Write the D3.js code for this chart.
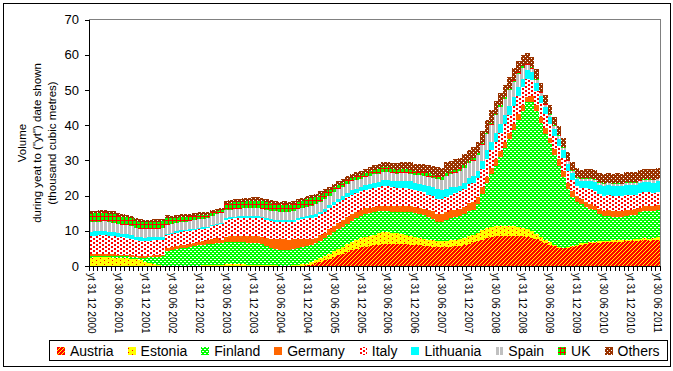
<!DOCTYPE html>
<html>
<head>
<meta charset="utf-8">
<title>Volume during year to date</title>
<script src="https://d3js.org/d3.v7.min.js"></script>
<style>
  body { margin: 0; background: #fff; }
  text { font-family: Arial, "Liberation Sans", sans-serif; fill: #000; }
</style>
</head>
<body>
<svg width="673" height="371"></svg>
<script>
// monthly "year to date" volumes, Dec 2000 .. Jun 2011 (thousand m3)
var countries = ["Austria", "Estonia", "Finland", "Germany", "Italy", "Lithuania", "Spain", "UK", "Others"];

var austria = [0,0,0,0,0,0,0,0,0,0, 0,0,0,0,0,0,0,0,0,0, 0,0,0,0,0,0,0,0,0,0,
  0,0,0,0,0,0,0,0,0,0, 0,0,0,0,0,0,0,0.1,0.2,0.4, 0.8,1.2,1.6,2.1,2.6,3.0,3.5,4.0,4.5,4.9,
  5.3,5.5,5.7,5.9,6.1,6.2,6.3,6.3,6.3,6.2, 6.2,6.1,6.0,5.9,5.8,5.6,5.4,5.3,5.3,5.4,
  5.5,5.6,5.7,6.0,6.3,6.7,7.1,7.5,7.9,8.2, 8.4,8.5,8.6,8.6,8.6,8.5,8.4,8.2,8.0,7.6,
  7.0,6.5,6.0,5.6,5.2,5.0,5.2,5.5,5.8,6.0, 6.2,6.4,6.5,6.6,6.7,6.8,6.9,6.9,6.9,7.0,
  7.0,7.1,7.2,7.3,7.2,7.4,7.5];
var estonia = [2.4,2.5,2.6,2.6,2.5,2.4,2.3,2.3,2.2,2.1, 1.9,1.6,1.2,0.8,0.5,0.3,0.1,0,0,0,
  0,0,0,0.1,0.1,0.2,0.3,0.3,0.4,0.4, 0.5,0.5,0.5,0.5,0.5,0.4,0.4,0.4,0.3,0.3,
  0.2,0.2,0.1,0.1,0.1,0.2,0.3,0.4,0.5,0.6, 0.8,1.0,1.2,1.4,1.6,1.8,2.0,2.2,2.4,2.5,
  2.6,2.7,2.8,3.0,3.3,3.5,3.4,3.2,3.0,2.8, 2.6,2.4,2.2,2.1,2.0,1.9,1.9,1.9,1.8,1.8,
  1.8,1.8,1.9,2.0,2.1,2.2,2.4,2.6,2.8,3.0, 3.0,3.0,2.9,2.8,2.7,2.6,2.4,2.2,1.9,1.6,
  1.3,1.0,0.7,0.5,0.3,0.2,0.2,0.3,0.3,0.4, 0.4,0.4,0.4,0.4,0.4,0.4,0.4,0.5,0.5,0.5,
  0.5,0.5,0.5,0.6,0.6,0.6,0.6];
var finland = [0.3,0.3,0.3,0.3,0.3,0.4,0.4,0.4,0.5,0.5, 0.6,0.8,1.2,1.7,2.1,2.3,2.6,4.4,4.6,4.8,
  5.0,5.2,5.4,5.5,5.8,5.8,5.9,6.0,6.0,6.1, 6.2,6.2,6.2,6.2,6.2,6.2,6.2,6.2,5.9,5.4,
  5.0,4.6,4.4,4.4,4.4,4.6,4.8,4.9,5.0,5.0, 4.9,5.0,5.1,5.4,5.5,5.6,5.7,5.8,6.0,6.2,
  6.4,6.6,6.6,6.4,6.1,5.9,5.8,5.9,6.1,6.3, 6.5,6.7,6.8,6.8,6.6,6.4,6.0,5.4,5.3,6.0,
  6.4,6.5,6.6,6.8,7.3,7.1,8.0,10.4,12.8,14.8, 17.1,19.5,22.0,24.6,27.2,30.4,33.2,36.1,36.8,34.8,
  32.2,30.0,28.1,25.4,23.0,20.2,16.6,13.9,12.2,11.1, 10.1,9.5,8.9,7.8,7.1,7.0,6.7,6.4,6.4,6.8,
  7.0,7.0,7.5,7.6,7.9,7.6,7.7];
var germany = [0.6,0.6,0.5,0.5,0.5,0.5,0.4,0.4,0.4,0.4, 0.4,0.4,0.4,0.4,0.4,0.4,0.5,0.7,0.8,0.8,
  0.9,0.9,0.9,1.0,1.0,1.0,1.1,1.4,1.5,0.8, 1.6,1.7,1.8,1.8,1.9,1.9,1.9,1.8,1.9,2.2,
  2.6,3.0,3.1,3.1,3.0,2.8,2.6,2.2,1.9,1.7, 1.5,1.5,1.6,1.7,1.8,1.9,1.9,1.9,1.8,1.7,
  1.6,1.6,1.5,1.5,1.4,1.5,1.6,1.6,1.6,1.7, 1.7,1.8,1.8,1.8,1.9,2.0,2.2,2.3,2.3,2.2,
  2.1,2.0,2.0,2.0,2.1,2.2,2.0,1.8,1.7,1.7, 1.8,1.7,1.8,1.7,1.7,1.6,1.6,1.5,1.5,1.6,
  1.7,1.7,1.6,1.7,1.8,1.6,1.7,1.6,1.5,1.5, 1.4,1.3,1.3,1.4,1.5,1.6,1.6,1.7,1.7,1.6,
  1.5,1.5,1.4,1.4,1.3,1.3,1.4];
var italy = [5.2,5.2,5.3,5.3,5.2,5.1,5.2,5.0,4.9,4.8, 4.5,4.4,4.3,4.3,4.3,4.3,4.2,3.6,3.7,3.8,
  3.8,3.8,3.7,3.6,3.6,3.6,3.5,3.6,3.7,4.6, 4.8,4.9,5.0,5.1,5.1,5.2,5.2,5.3,5.4,5.3,
  5.0,4.8,4.8,4.9,4.9,5.0,5.3,5.7,6.0,6.0, 6.0,6.0,5.9,5.8,5.8,5.8,5.7,5.7,5.6,5.5,
  5.3,5.2,5.3,5.4,5.4,5.5,5.5,5.3,5.2,5.2, 5.1,5.0,4.8,4.7,4.6,4.4,4.3,4.2,4.2,4.3,
  4.5,4.8,5.0,5.2,5.4,5.5,5.4,5.3,5.2,5.1, 5.0,5.0,5.1,5.1,5.2,5.2,5.2,5.2,4.6,4.2,
  4.0,3.9,3.8,3.8,3.8,3.7,3.4,3.1,3.0,3.2, 4.0,4.2,4.3,4.2,4.3,4.4,4.4,4.4,4.3,4.3,
  4.2,4.2,4.1,4.0,3.9,3.9,3.9];
var lithuania = [1.2,1.2,1.2,1.3,1.2,1.2,1.1,1.0,1.0,1.0, 0.9,0.9,0.9,0.9,0.9,0.9,0.9,0.4,0.4,0.4,
  0.4,0.4,0.4,0.4,0.4,0.4,0.4,0.4,0.4,0.4, 0.5,0.5,0.5,0.5,0.5,0.5,0.4,0.4,0.4,0.4,
  0.5,0.5,0.6,0.6,0.6,0.6,0.6,0.6,0.6,0.7, 0.7,0.7,0.8,0.8,0.9,1.0,1.0,1.1,1.2,1.2,
  1.3,1.4,1.4,1.5,1.6,1.7,1.8,1.8,1.8,1.9, 1.9,2.0,2.0,2.1,2.2,2.4,2.6,2.8,2.6,2.3,
  2.0,1.8,1.6,1.6,1.7,1.8,2.0,2.2,2.4,2.5, 2.5,2.5,2.5,2.5,2.5,2.4,2.4,2.4,2.2,2.1,
  2.0,2.0,2.0,2.0,2.1,2.1,2.0,1.9,1.8,1.9, 2.0,2.2,2.4,2.6,2.7,2.7,2.7,2.8,2.8,2.8,
  2.8,2.8,2.9,2.9,2.9,2.9,2.9];
var spain = [2.7,2.7,2.7,2.7,2.7,2.7,2.6,2.6,2.6,2.5, 2.4,2.4,2.4,2.4,2.4,2.4,2.4,2.5,2.4,2.4,
  2.4,2.3,2.3,2.4,2.4,2.4,2.5,2.6,2.7,2.7, 2.2,2.2,2.2,2.2,2.2,2.3,2.4,2.4,2.4,2.4,
  2.4,2.4,2.3,2.3,2.3,2.4,2.5,2.5,2.6,2.7, 2.8,2.8,2.8,2.8,2.8,2.7,2.6,2.6,2.5,2.4,
  2.3,2.3,2.3,2.3,2.3,2.3,2.2,2.2,2.1,2.2, 2.3,2.2,2.3,2.4,2.5,2.6,2.6,2.7,2.9,3.6,
  3.8,4.0,4.2,4.3,4.3,4.4,4.5,4.6,4.6,4.8, 5.0,4.9,4.6,4.6,4.4,3.8,3.0,1.4,1.0,0.9,
  0.8,0.7,0.7,0.7,0.8,0.8,0.7,0.6,0.5,0.5, 0.6,0.6,0.6,0.6,0.6,0.6,0.6,0.6,0.6,0.6,
  0.6,0.6,0.6,0.6,0.6,0.6,0.6];
var uk = [2.5,2.5,2.5,2.5,2.5,2.4,2.3,2.2,2.2,2.2, 2.1,2.1,2.0,2.0,2.0,2.0,2.0,2.0,1.6,1.5,
  1.4,1.4,1.4,1.2,1.1,1.0,0.9,0.9,0.9,0.9, 1.9,1.9,1.9,1.9,1.9,1.9,2.1,2.1,2.1,2.1,
  2.1,2.1,2.1,2.1,2.1,2.1,2.1,2.1,2.1,2.1, 2.0,2.0,1.9,1.5,1.3,1.3,1.2,1.2,1.1,1.1,
  1.0,1.1,1.3,1.4,1.4,1.4,1.4,1.3,1.3,1.2, 1.2,1.1,1.1,1.0,1.0,1.0,0.9,0.9,0.9,0.9,
  0.8,0.8,0.8,0.8,0.7,0.7,0.6,0.6,0.5,0.5, 0.5,0.5,0.5,0.5,0.5,0.5,0.5,0.4,0.4,0.3,
  0.3,0.3,0.3,0.3,0.3,0.3,0.3,0.3,0.3,0.3, 0.3,0.3,0.3,0.2,0.2,0.2,0.2,0.2,0.2,0.2,
  0.2,0.2,0.2,0.2,0.2,0.2,0.2];
var others = [0.7,0.7,0.8,0.8,0.8,0.8,0.8,0.8,0.8,0.8, 0.8,0.7,0.7,0.7,0.7,0.7,0.7,0.8,0.8,0.8,
  0.8,0.8,0.8,0.8,0.8,0.8,0.8,0.8,0.7,0.7, 0.9,0.9,0.9,0.9,0.9,0.9,0.9,0.9,0.9,0.9,
  0.9,0.9,0.9,0.9,0.9,0.9,0.9,0.9,0.9,0.9, 1.0,1.0,1.0,1.0,1.0,1.0,1.1,1.1,1.1,1.1,
  1.1,1.2,1.2,1.3,1.4,1.5,1.6,1.7,1.8,1.9, 2.0,2.1,2.1,2.2,2.3,2.4,2.4,2.5,2.6,2.9,
  2.9,3.0,3.0,3.1,3.1,3.2,3.3,3.4,3.5,3.6, 3.6,3.5,3.5,3.4,3.4,3.3,3.2,3.1,2.9,2.8,
  2.7,2.6,2.5,2.4,2.4,2.4,2.3,2.3,2.3,2.4, 2.5,2.6,2.6,2.7,2.7,2.7,2.7,2.8,2.8,2.8,
  2.8,2.9,2.9,2.9,3.0,3.0,3.0];

var xTickLabels = ["yt 31 12 2000", "yt 30 06 2001", "yt 31 12 2001", "yt 30 06 2002",
  "yt 31 12 2002", "yt 30 06 2003", "yt 31 12 2003", "yt 30 06 2004", "yt 31 12 2004",
  "yt 30 06 2005", "yt 31 12 2005", "yt 30 06 2006", "yt 31 12 2006", "yt 30 06 2007",
  "yt 31 12 2007", "yt 30 06 2008", "yt 31 12 2008", "yt 30 06 2009", "yt 31 12 2009",
  "yt 30 06 2010", "yt 31 12 2010", "yt 30 06 2011"];
var yTicks = [0, 10, 20, 30, 40, 50, 60, 70];
var yTitle = ["Volume", "during yeat to (\"yt\") date shown", "(thousand cubic metres)"];

var seriesData = [austria, estonia, finland, germany, italy, lithuania, spain, uk, others];
var rows = austria.map(function(v, i) {
  var r = { idx: i };
  countries.forEach(function(c, k) { r[c] = seriesData[k][i]; });
  return r;
});

var svg = d3.select("svg");
var plotL = 89, plotR = 660, plotT = 19.5, plotB = 266;

var x = d3.scaleBand().domain(d3.range(rows.length)).range([plotL, plotR]).padding(0);
var y = d3.scaleLinear().domain([0, 70]).range([plotB, plotT]);

// Excel-like pattern fills
var defs = svg.append("defs");
function pattern(id, w, h, bg, fg, pixels) {
  var p = defs.append("pattern").attr("id", id)
    .attr("patternUnits", "userSpaceOnUse").attr("width", w).attr("height", h);
  p.append("rect").attr("width", w).attr("height", h).attr("fill", bg);
  pixels.forEach(function(q) {
    p.append("rect").attr("x", q[0]).attr("y", q[1])
      .attr("width", q[2] || 1).attr("height", q[3] || 1).attr("fill", fg);
  });
}
pattern("p-austria", 4, 4, "#ff0000", "#ffff00", [[0,3],[1,2],[2,1],[3,0]]);
pattern("p-estonia", 8, 4, "#ffff00", "#ff0000", [[0,0],[4,2]]);
pattern("p-finland", 4, 4, "#00ff00", "#ffffff", [[0,1,2,1],[2,3,2,1]]);
pattern("p-germany", 4, 4, "#ff6600", "#ff6600", []);
pattern("p-italy", 6, 4, "#ffffff", "#ff0000", [[0,0,2,2],[3,2,2,2]]);
pattern("p-lithuania", 4, 4, "#00ffff", "#00ffff", []);
pattern("p-spain", 4, 4, "#ffffff", "#c0c0c0", [[0,0,3,4]]);
pattern("p-uk", 4, 4, "#00ff00", "#ff0000", [[0,0,4,1],[0,0,1,4]]);
pattern("p-others", 4, 4, "#993300", "#ffffff", [[1,0],[3,2]]);

var fillOf = function(c) { return "url(#p-" + c.toLowerCase() + ")"; };

var stack = d3.stack().keys(countries)(rows);

svg.append("g").attr("shape-rendering", "crispEdges")
  .selectAll("g").data(stack).enter().append("g")
  .attr("fill", function(s) { return fillOf(s.key); })
  .selectAll("rect").data(function(s) { return s; }).enter().append("rect")
  .attr("x", function(d) { return x(d.data.idx); })
  .attr("width", x.bandwidth())
  .attr("y", function(d) { return y(d[1]); })
  .attr("height", function(d) { return y(d[0]) - y(d[1]); });

// plot area border (grey top/right)
svg.append("path")
  .attr("d", "M" + plotL + "," + plotT + "H" + (plotR + 0.5) + "V" + plotB)
  .attr("fill", "none").attr("stroke", "#808080").attr("shape-rendering", "crispEdges");

// y axis
var yAxis = svg.append("g").attr("transform", "translate(" + plotL + ",0)")
  .call(d3.axisLeft(y).tickValues(yTicks).tickSize(4).tickSizeOuter(0).tickPadding(6));
yAxis.selectAll("text").style("font-size", "13px").attr("fill", "#000");
yAxis.selectAll("line, path").attr("stroke", "#000").attr("shape-rendering", "crispEdges");

// x axis line with a tick at every category boundary
var xg = svg.append("g").attr("shape-rendering", "crispEdges");
xg.append("line").attr("x1", plotL).attr("x2", plotR).attr("y1", plotB + 0.5).attr("y2", plotB + 0.5)
  .attr("stroke", "#000");
xg.selectAll("line.tick").data(d3.range(rows.length + 1)).enter().append("line")
  .attr("class", "tick")
  .attr("x1", function(i) { return i < rows.length ? x(i) : plotR; })
  .attr("x2", function(i) { return i < rows.length ? x(i) : plotR; })
  .attr("y1", plotB).attr("y2", plotB + 5).attr("stroke", "#000");

svg.append("g").selectAll("text").data(xTickLabels).enter().append("text")
  .attr("transform", function(t, k) {
    return "translate(" + (x(k * 6) + x.bandwidth() / 2) + "," + (plotB + 7) + ") rotate(90)";
  })
  .attr("dy", "0.35em").style("font-size", "10px").text(function(t) { return t; });

// y title
svg.append("g").selectAll("text").data(yTitle).enter().append("text")
  .attr("transform", function(t, k) { return "translate(" + (22 + k * 15) + ",143) rotate(-90)"; })
  .attr("text-anchor", "middle").attr("dy", "0.35em").style("font-size", "11.5px")
  .text(function(t) { return t; });

// legend
var lg = svg.append("g");
lg.append("rect").attr("x", 49.5).attr("y", 340.5).attr("width", 618).attr("height", 20)
  .attr("fill", "#fff").attr("stroke", "#000").attr("shape-rendering", "crispEdges");
var lx = 57;
countries.forEach(function(c) {
  lg.append("rect").attr("x", lx).attr("y", 347).attr("width", 8).attr("height", 8)
    .attr("fill", fillOf(c)).attr("shape-rendering", "crispEdges");
  var t = lg.append("text").attr("x", lx + 13).attr("y", 351).attr("dy", "0.35em")
    .style("font-size", "14px").text(c);
  lx += 13 + t.node().getComputedTextLength() + 14;
});

// chart frame
svg.append("rect").attr("x", 3.5).attr("y", 3.5).attr("width", 667).attr("height", 363)
  .attr("fill", "none").attr("stroke", "#000").attr("shape-rendering", "crispEdges");
</script>
</body>
</html>
